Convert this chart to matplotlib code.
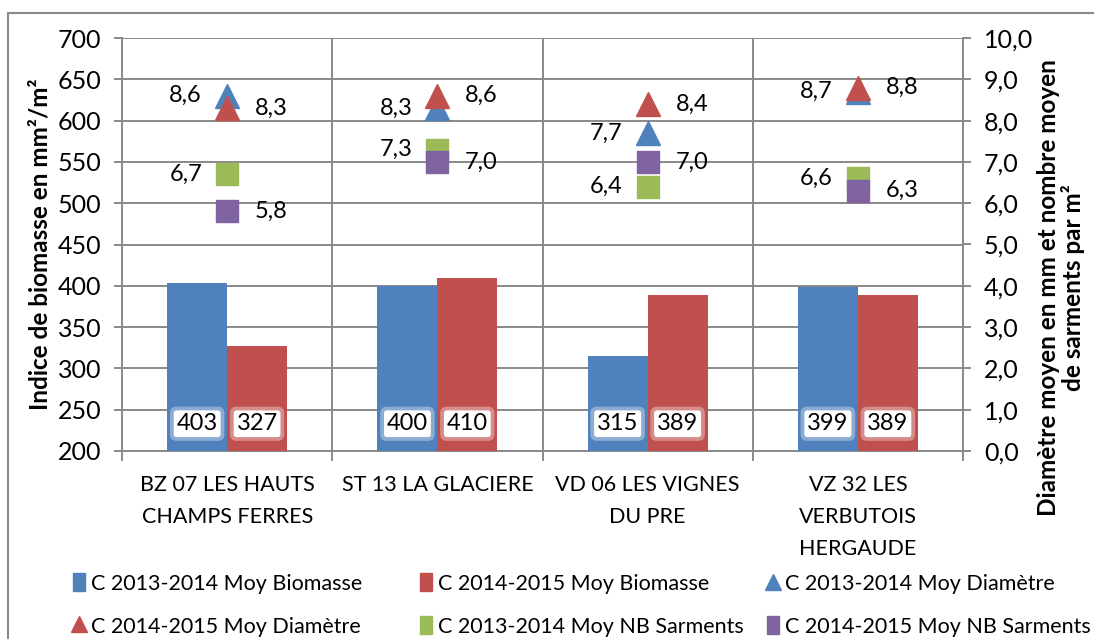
import matplotlib
matplotlib.use("Agg")
import matplotlib.pyplot as plt
from matplotlib.patches import Rectangle
from matplotlib.lines import Line2D
import numpy as np

plt.rcParams['font.family'] = ['Lato', 'DejaVu Sans']

# data
categories = ['BZ 07 LES HAUTS\nCHAMPS FERRES', 'ST 13 LA GLACIERE',
              'VD 06 LES VIGNES\nDU PRE', 'VZ 32 LES\nVERBUTOIS\nHERGAUDE']
biomasse_1314 = [403, 400, 315, 399]
biomasse_1415 = [327, 410, 389, 389]
diametre_1314 = [8.6, 8.3, 7.7, 8.7]
diametre_1415 = [8.3, 8.6, 8.4, 8.8]
sarments_1314 = [6.7, 7.3, 6.4, 6.6]
sarments_1415 = [5.8, 7.0, 7.0, 6.3]

blue = '#4F81BD'
red = '#C0504D'
green = '#9BBB59'
purple = '#8064A2'
grid_col = '#898989'

W, H = 1094, 639
fig = plt.figure(figsize=(W / 100, H / 100), dpi=100)
ax = fig.add_axes([122 / W, 1 - 451 / H, (963 - 122) / W, (451 - 38) / H])
ax2 = ax.twinx()

x = np.arange(len(categories))
w = 0.285
ax.bar(x - w / 2, biomasse_1314, w, color=blue, zorder=3)
ax.bar(x + w / 2, biomasse_1415, w, color=red, zorder=3)
ax.set_ylim(200, 700)
ax.set_xlim(-0.5, len(categories) - 0.5)
ax.set_yticks(np.arange(200, 701, 50))

# bar value labels (white box with a soft halo)
for i in range(len(categories)):
    for off, val in ((-w / 2, biomasse_1314[i]), (w / 2, biomasse_1415[i])):
        ax.text(x[i] + off, 233, str(val), ha='center', va='center', fontsize=17, zorder=5,
                color='none',
                bbox=dict(boxstyle='round,pad=0.28', fc='white', ec='none', lw=0, alpha=0.35))
        ax.text(x[i] + off, 233, str(val), ha='center', va='center', fontsize=17, zorder=6,
                bbox=dict(boxstyle='round,pad=0.12', fc='white', ec='none', lw=0))

# markers on secondary axis
ms = 17
ax2.plot(x, diametre_1314, '^', color=blue, ms=ms, ls='none', zorder=4)
ax2.plot(x, diametre_1415, '^', color=red, ms=ms, ls='none', zorder=4)
ax2.plot(x, sarments_1314, 's', color=green, ms=ms - 1, ls='none', zorder=4)
ax2.plot(x, sarments_1415, 's', color=purple, ms=ms - 1, ls='none', zorder=4)
ax2.set_ylim(0, 10)


def fmt(v):
    return f'{v:.1f}'.replace('.', ',')


right_ticks = np.arange(0, 10.1, 1)
ax2.set_yticks(right_ticks)
ax2.set_yticklabels([fmt(v) for v in right_ticks])

for i in range(len(categories)):
    for vals in (diametre_1314, sarments_1314):
        ax2.annotate(fmt(vals[i]), (x[i], vals[i]), xytext=(-18, 0), textcoords='offset points',
                     ha='right', va='center', fontsize=17)
    for vals in (diametre_1415, sarments_1415):
        ax2.annotate(fmt(vals[i]), (x[i], vals[i]), xytext=(20, 0), textcoords='offset points',
                     ha='left', va='center', fontsize=17)

# grid and axes styling
ax.set_axisbelow(True)
ax.yaxis.grid(True, color=grid_col, lw=1.4, zorder=0)
for b in np.arange(0.5, len(categories) - 1, 1):
    ax.axvline(b, color=grid_col, lw=1.4, zorder=0)
for a in (ax, ax2):
    for s in a.spines.values():
        s.set_visible(False)
for a, side in ((ax, 'left'), (ax, 'bottom'), (ax2, 'right')):
    a.spines[side].set_visible(True)
    a.spines[side].set_color(grid_col)
    a.spines[side].set_linewidth(1.4)

ax.set_xticks(np.arange(-0.5, len(categories), 1))
ax.set_xticklabels([])
ax.set_xticks(x, minor=True)
ax.set_xticklabels(categories, minor=True, fontsize=15.5, linespacing=1.75, va='top')
ax.tick_params(axis='x', which='major', length=7, color=grid_col, width=1.4)
ax.tick_params(axis='x', which='minor', length=0, pad=17)
ax.tick_params(axis='y', length=6, color=grid_col, width=1.4, labelsize=18, pad=9)
ax2.tick_params(axis='y', length=6, color=grid_col, width=1.4, labelsize=18, pad=9)

ax.set_ylabel('Indice de biomasse en mm²/m²', fontsize=17.5, fontweight='bold')
ax.yaxis.set_label_coords(-70 / 841, 0.5)
fig.text(1061 / W, 1 - 288 / H, 'Diamètre moyen en mm et nombre moyen\nde sarments par m²',
         rotation=90, ha='center', va='center', fontsize=17.5, fontweight='bold', linespacing=1.05)

# legend: three columns of two entries each
col_handles = [
    [Rectangle((0, 0), 1, 1, color=blue), Line2D([], [], marker='^', color=red, ls='none', ms=11)],
    [Rectangle((0, 0), 1, 1, color=red), Rectangle((0, 0), 1, 1, color=green)],
    [Line2D([], [], marker='^', color=blue, ls='none', ms=11), Rectangle((0, 0), 1, 1, color=purple)],
]
col_labels = [
    ['C 2013-2014 Moy Biomasse', 'C 2014-2015 Moy Diamètre'],
    ['C 2014-2015 Moy Biomasse', 'C 2013-2014 Moy NB Sarments'],
    ['C 2013-2014 Moy Diamètre', 'C 2014-2015 Moy NB Sarments'],
]
col_x = [73, 420, 767]
for hs, ls, cx in zip(col_handles, col_labels, col_x):
    fig.legend(hs, ls, loc='center left', bbox_to_anchor=(cx / W, 1 - 605 / H), frameon=False,
               fontsize=15.5, handlelength=0.55, handleheight=0.9, handletextpad=0.3,
               labelspacing=1.05, borderpad=0, borderaxespad=0)

# outer chart frame
fig.patches.append(Rectangle((8 / W, -0.05), 1.1, 1 - 13 / H + 0.05, transform=fig.transFigure,
                             fill=False, ec=grid_col, lw=1.5))

fig.savefig('out.png', dpi=100)
